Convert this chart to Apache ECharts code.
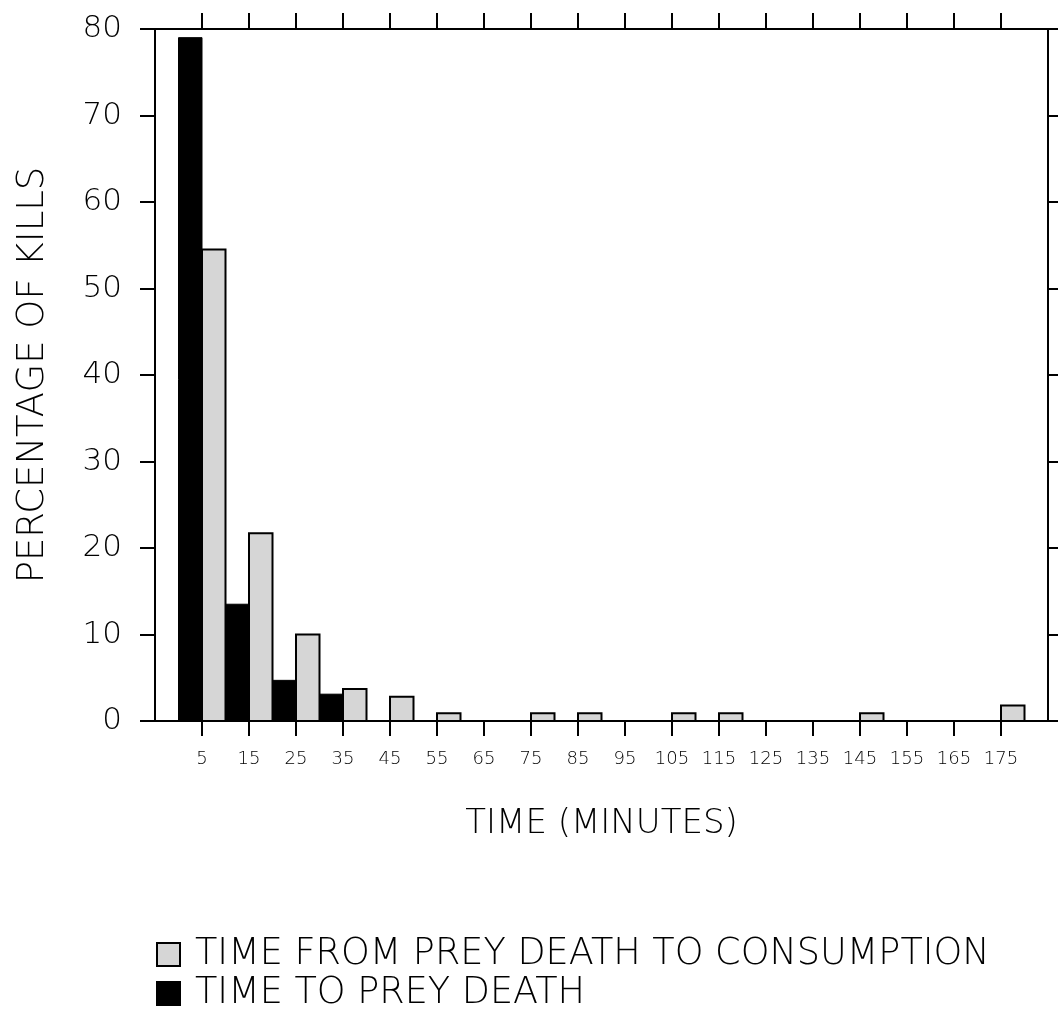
<!DOCTYPE html>
<html>
<head>
<meta charset="utf-8">
<script src="https://cdn.jsdelivr.net/npm/echarts@6/dist/echarts.min.js"></script>
<style>
html,body{margin:0;padding:0;background:#fff;}
#chart{width:1058px;height:1013px;}
</style>
</head>
<body>
<div id="chart"></div>
<script>
// Bin centres (minutes) used as x tick labels
const binCenters = [5, 15, 25, 35, 45, 55, 65, 75, 85, 95, 105, 115, 125, 135, 145, 155, 165, 175];
// Percentage of kills: time to prey death (black bars)
const timeToDeath = [79, 13.5, 4.7, 3.1, 0, 0, 0, 0, 0, 0, 0, 0, 0, 0, 0, 0, 0, 0];
// Percentage of kills: time from prey death to consumption (stippled bars)
const timeToConsumption = [54.5, 21.7, 10.0, 3.7, 2.8, 0.9, 0, 0.9, 0.9, 0, 0.9, 0.9, 0, 0, 0.9, 0, 0, 1.8];
const seriesNames = ['TIME FROM PREY DEATH TO CONSUMPTION', 'TIME TO PREY DEATH'];

const FONT = 'DejaVu Sans';
const chart = echarts.init(document.getElementById('chart'), null, {renderer: 'canvas'});

function makeRender(side) {
  return function (params, api) {
    const c = api.value(0), v = api.value(1);
    if (!v) return null;
    const x0 = side === 'left' ? c - 5 : c;
    const x1 = side === 'left' ? c : c + 5;
    const p0 = api.coord([x0, v]);
    const p1 = api.coord([x1, 0]);
    return {
      type: 'rect',
      shape: {x: p0[0], y: p0[1], width: p1[0] - p0[0], height: p1[1] - p0[1]},
      style: api.style()
    };
  };
}

const lineStyle = {color: '#000', width: 2};
const legendText = {fontFamily: FONT, fontWeight: 200, fontSize: 36.6, color: '#000', padding: [0, 0, 0, 10]};

function legendFor(name, top) {
  return {
    orient: 'vertical', left: 151, top: top,
    itemWidth: 23, itemHeight: 23, icon: 'rect',
    textStyle: legendText,
    data: [name]
  };
}

chart.setOption({
  animation: false,
  backgroundColor: '#fff',
  textStyle: {fontFamily: FONT, fontWeight: 200, color: '#000'},
  grid: {left: 155, right: 10, top: 29, bottom: 292, containLabel: false},
  legend: [legendFor(seriesNames[0], 931), legendFor(seriesNames[1], 970)],
  xAxis: [{
    type: 'value', position: 'bottom', min: -5, max: 185,
    axisLine: {show: true, onZero: false, lineStyle: lineStyle},
    axisTick: {show: true, inside: false, length: 15, customValues: binCenters, lineStyle: lineStyle},
    axisLabel: {show: true, customValues: binCenters, fontSize: 18, color: '#000', margin: 29, fontFamily: FONT, fontWeight: 200},
    splitLine: {show: false},
    name: 'TIME (MINUTES)', nameLocation: 'middle', nameGap: 86,
    nameTextStyle: {fontSize: 34, color: '#000', fontFamily: FONT, fontWeight: 200}
  }, {
    type: 'value', position: 'top', min: -5, max: 185,
    axisLine: {show: true, onZero: false, lineStyle: lineStyle},
    axisTick: {show: true, inside: false, length: 16, customValues: binCenters, lineStyle: lineStyle},
    axisLabel: {show: false},
    splitLine: {show: false}
  }],
  yAxis: [{
    type: 'value', position: 'left', min: 0, max: 80, interval: 10,
    axisLine: {show: true, onZero: false, lineStyle: lineStyle},
    axisTick: {show: true, inside: false, length: 15, lineStyle: lineStyle},
    axisLabel: {fontSize: 31, color: '#000', margin: 33, fontFamily: FONT, fontWeight: 200},
    splitLine: {show: false},
    name: 'PERCENTAGE OF KILLS', nameLocation: 'middle', nameGap: 103, nameRotate: 90,
    nameTextStyle: {fontSize: 37, color: '#000', fontFamily: FONT, fontWeight: 200}
  }, {
    type: 'value', position: 'right', min: 0, max: 80, interval: 10,
    axisLine: {show: true, onZero: false, lineStyle: lineStyle},
    axisTick: {show: true, inside: false, length: 12, lineStyle: lineStyle},
    axisLabel: {show: false},
    splitLine: {show: false}
  }],
  series: [{
    name: seriesNames[0],
    type: 'custom',
    xAxisIndex: 0, yAxisIndex: 0,
    renderItem: makeRender('right'),
    itemStyle: {color: '#d6d6d6', borderColor: '#000', borderWidth: 2},
    encode: {x: 0, y: 1},
    data: binCenters.map((c, i) => [c, timeToConsumption[i]]),
    z: 3
  }, {
    name: seriesNames[1],
    type: 'custom',
    xAxisIndex: 0, yAxisIndex: 0,
    renderItem: makeRender('left'),
    itemStyle: {color: '#000', borderColor: '#000', borderWidth: 1},
    encode: {x: 0, y: 1},
    data: binCenters.map((c, i) => [c, timeToDeath[i]]),
    z: 3
  }]
});
</script>
</body>
</html>
